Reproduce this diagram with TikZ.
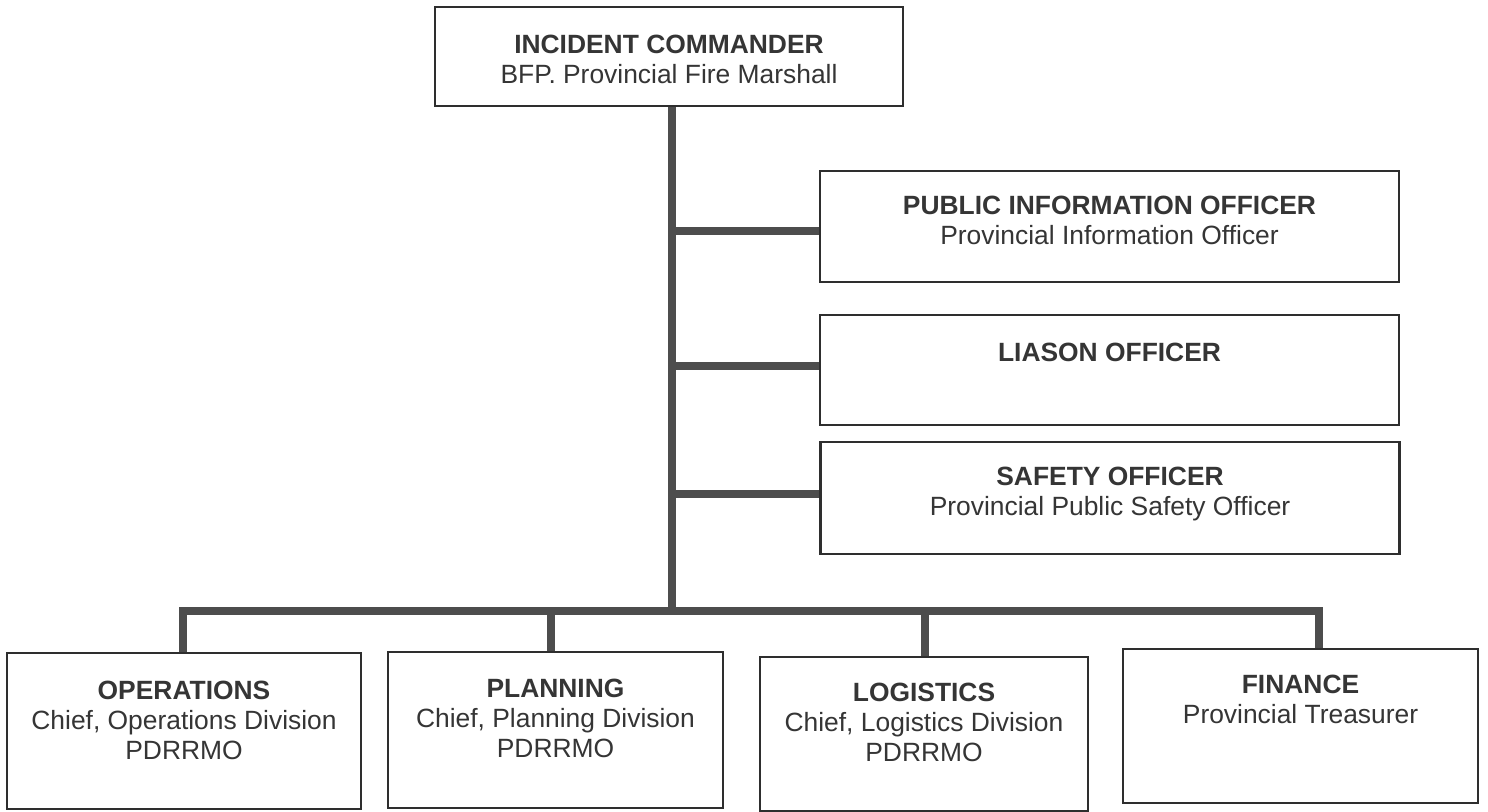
\documentclass[tikz,border=0pt]{standalone}
\usepackage{fontspec}
\setmainfont{Liberation Sans}
\definecolor{conncol}{HTML}{4D4D4D}
\definecolor{boxcol}{HTML}{2E2E2E}
\definecolor{txtcol}{HTML}{353535}
\tikzset{
  orgbox/.style={draw=boxcol, line width=1.1pt, rectangle, inner sep=0pt, fill=white},
  boxtext/.style={anchor=north, inner sep=0pt, align=center, text=txtcol,
    font=\fontsize{13.2}{15}\selectfont},
  conn/.style={draw=conncol, line width=4pt, line join=miter}
}
\begin{document}
\begin{tikzpicture}[x=0.5pt, y=-0.5pt]
\useasboundingbox[fill=white] (0,0) rectangle (1488,812);

% boxes
\node[orgbox, minimum width=234pt, minimum height=49.5pt] (ic) at (669,56.5) {};
\node[orgbox, minimum width=289.5pt, minimum height=55.5pt] (pio) at (1109.5,226.5) {};
\node[orgbox, minimum width=289.5pt, minimum height=55pt] (lia) at (1109.5,370) {};
\node[orgbox, minimum width=289.5pt, minimum height=56pt] (saf) at (1110,498) {};
\node[orgbox, minimum width=177pt, minimum height=78pt] (ops) at (184,731) {};
\node[orgbox, minimum width=167.5pt, minimum height=78pt] (plan) at (555.5,730) {};
\node[orgbox, minimum width=164pt, minimum height=77pt] (log) at (924,734) {};
\node[orgbox, minimum width=177.5pt, minimum height=77pt] (fin) at (1300.5,726) {};

% texts
\node[boxtext] (ict) at ([yshift=-14.3pt]ic.north) {\textbf{INCIDENT COMMANDER}\\BFP. Provincial Fire Marshall};
\node[boxtext] (piot) at ([yshift=-13pt]pio.north) {\textbf{PUBLIC INFORMATION OFFICER}\\Provincial Information Officer};
\node[boxtext] (liat) at ([yshift=-14.3pt]lia.north) {\textbf{LIASON OFFICER}};
\node[boxtext] (saft) at ([yshift=-13pt]saf.north) {\textbf{SAFETY OFFICER}\\Provincial Public Safety Officer};
\node[boxtext] (opst) at ([yshift=-14.3pt]ops.north) {\textbf{OPERATIONS}\\Chief, Operations Division\\PDRRMO};
\node[boxtext] (plant) at ([yshift=-13.8pt]plan.north) {\textbf{PLANNING}\\Chief, Planning Division\\PDRRMO};
\node[boxtext] (logt) at ([yshift=-13.3pt]log.north) {\textbf{LOGISTICS}\\Chief, Logistics Division\\PDRRMO};
\node[boxtext] (fint) at ([yshift=-13.3pt]fin.north) {\textbf{FINANCE}\\Provincial Treasurer};

% connector coordinates
\coordinate (t1) at (672,231);
\coordinate (t2) at (672,366);
\coordinate (t3) at (672,494);
\coordinate (tb) at (672,611);
\coordinate (b1) at (183,611);
\coordinate (b2) at (551,611);
\coordinate (b3) at (925,611);
\coordinate (b4) at (1319,611);

% connectors
\draw[conn] (ic.south -| tb) -- (tb);
\draw[conn] (t1) -- (t1 -| pio.west);
\draw[conn] (t2) -- (t2 -| lia.west);
\draw[conn] (t3) -- (t3 -| saf.west);
\draw[conn] (b1 |- ops.north) -- (b1) -- (b4) -- (b4 |- fin.north);
\draw[conn] (b2) -- (b2 |- plan.north);
\draw[conn] (b3) -- (b3 |- log.north);
\end{tikzpicture}
\end{document}
